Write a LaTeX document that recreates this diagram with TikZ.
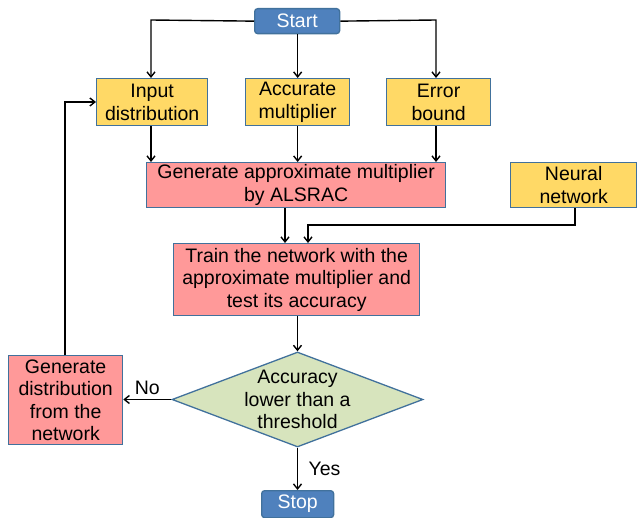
\documentclass[tikz,border=0pt]{standalone}
\usepackage{fontspec}
\setmainfont{Liberation Sans}
\usetikzlibrary{arrows.meta,shapes.geometric}
\definecolor{yel}{HTML}{FFD966}
\definecolor{redf}{HTML}{FF9999}
\definecolor{grn}{HTML}{D7E4BD}
\definecolor{blu}{HTML}{4F81BD}
\definecolor{bord}{HTML}{41719C}
\begin{document}
\begin{tikzpicture}[x=1pt,y=-1pt,
  font=\fontsize{19.5}{22.5}\selectfont,
  box/.style={draw=bord,line width=1.3pt,inner sep=0pt,align=center,anchor=north west},
  ybox/.style={box,fill=yel},
  rbox/.style={box,fill=redf},
  term/.style={box,fill=blu,rounded corners=3pt,text=white},
  arr/.style={-{Straight Barb[length=5pt,width=8pt]},line width=1.4pt}]
\useasboundingbox (0,0) rectangle (639,518);
\node[term,minimum width=85pt,minimum height=25pt] (start) at (254,8) {Start};
\node[ybox,minimum width=111pt,minimum height=47pt] (inp) at (96,78) {Input\\distribution};
\node[ybox,minimum width=104pt,minimum height=47pt] (acc) at (245,78) {Accurate\\multiplier};
\node[ybox,minimum width=104pt,minimum height=47pt] (err) at (386,78) {Error\\bound};
\node[rbox,minimum width=299pt,minimum height=45pt] (gen) at (146,162) {Generate approximate multiplier\\by ALSRAC};
\node[ybox,minimum width=126pt,minimum height=45pt] (nn) at (510,162) {Neural\\network};
\node[rbox,minimum width=246pt,minimum height=72pt] (train) at (173,243) {Train the network with the\\approximate multiplier and\\test its accuracy};
\node[draw=bord,line width=1.3pt,fill=grn,diamond,aspect=2.64,minimum width=251pt,minimum height=95pt,inner sep=0pt,
  label={[align=center]center:Accuracy\\lower than a\\threshold}] (dec) at (297.5,399.5) {};
\node[rbox,minimum width=114pt,minimum height=89pt] (gd) at (8,355) {Generate\\distribution\\from the\\network};
\node[term,minimum width=72pt,minimum height=27pt] (stop) at (261,490) {Stop};

\coordinate (c1) at (151,20);
\coordinate (c2) at (436,20);
\draw[arr] (start.west) -- (c1) -- (inp.north -| c1);
\draw[arr] (start.east) -- (c2) -- (err.north -| c2);
\draw[arr] (start.south -| acc.north) -- (acc.north);
\draw[arr] (inp.south -| c1) -- (gen.north -| c1);
\draw[arr] (acc.south) -- (gen.north -| acc.south);
\draw[arr] (err.south -| c2) -- (gen.north -| c2);
\coordinate (g1) at (285,207);
\draw[arr] (gen.south -| g1) -- (train.north -| g1);
\coordinate (n1) at (575,225);
\coordinate (n2) at (308,225);
\draw[arr] (nn.south -| n1) -- (n1) -- (n2) -- (train.north -| n2);
\draw[arr] (train.south -| dec.north) -- (dec.north);
\draw[arr] (dec.west) -- (gd.east |- dec.west) node[midway,above,yshift=1pt] {No};
\coordinate (l1) at (65,102);
\draw[arr] (gd.north -| l1) -- (l1) -- (inp.west |- l1);
\draw[arr] (dec.south) -- (stop.north -| dec.south) node[midway,right,xshift=7pt] {Yes};
\end{tikzpicture}
\end{document}
